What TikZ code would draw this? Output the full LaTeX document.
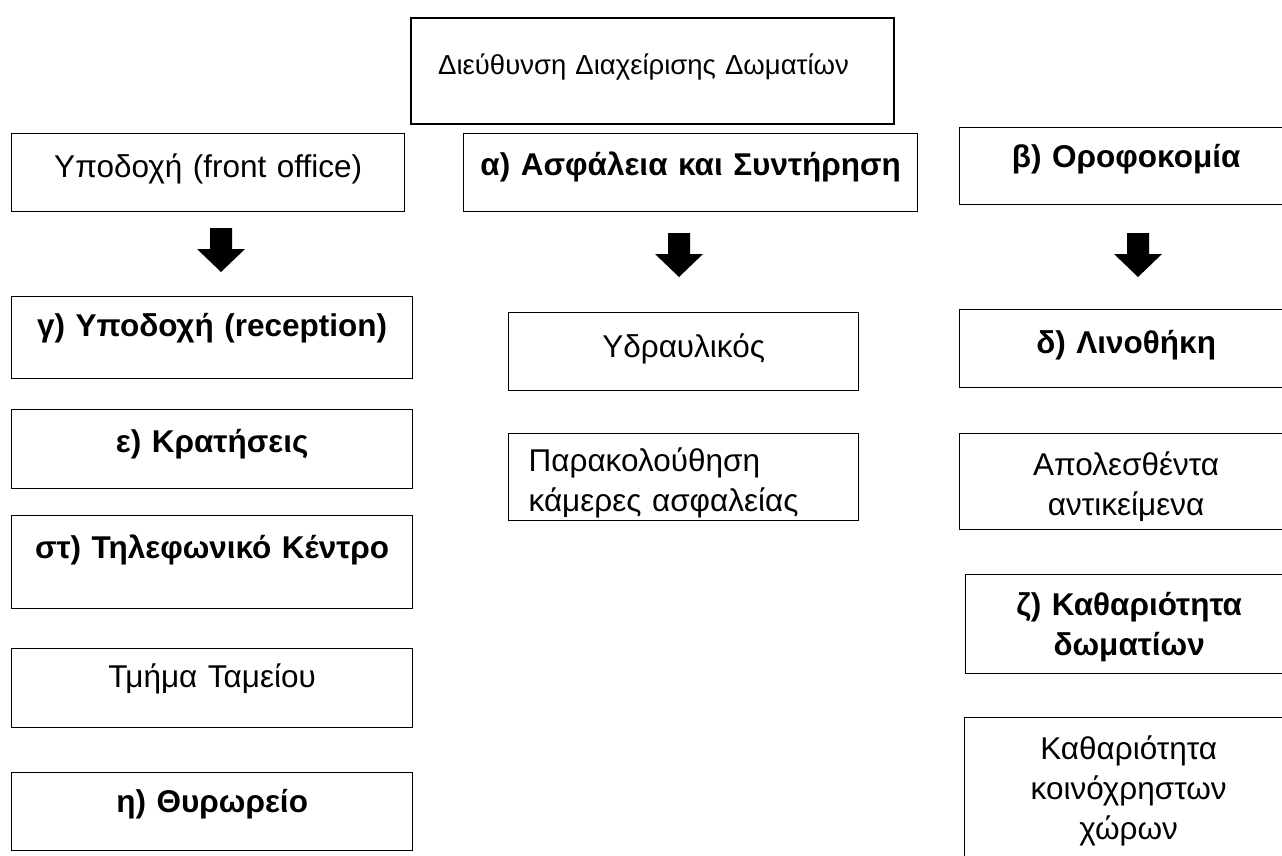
\documentclass[tikz,border=0pt]{standalone}
\usepackage{fontspec}
\setmainfont{Liberation Sans}
\usepackage{tikz}

\begin{document}
\begin{tikzpicture}[
	x=1pt, y=-1pt,
	box/.style={
		draw,
		line width=1.3pt,
		anchor=north west,
		inner xsep=0pt, inner ysep=0pt,
		align=center,
		font=\fontsize{31.5}{40}\selectfont
	},
	boldbox/.style={
		box,
		font=\fontsize{31.5}{40}\selectfont\bfseries
	},
	downarrow/.pic={
		\fill (-11,0) -- (11,0) -- (11,21) -- (24,21) -- (0,44) -- (-24,21) -- (-11,21) -- cycle;
	}
	]
	\useasboundingbox (0,0) rectangle (1282,855);
	\clip (0,0) rectangle (1282,855);

	\node[box,line width=2.4pt,align=left,inner xsep=27pt,text width=429pt,text height=56pt,text depth=50pt,font=\fontsize{27.5}{40}\selectfont]
	(dir) at (410,17) {Διεύθυνση Διαχείρισης Δωματίων};

	% left column
	\node[box,text width=393pt,text height=44pt,text depth=34pt]
	(front) at (11,133) {Υποδοχή (front office)};
	\node[boldbox,text width=401pt,text height=40pt,text depth=42pt]
	(recep) at (11,296) {γ) Υποδοχή (reception)};
	\node[boldbox,text width=401pt,text height=43pt,text depth=36pt]
	(book) at (11,409) {ε) Κρατήσεις};
	\node[boldbox,text width=401pt,text height=43pt,text depth=50pt]
	(phone) at (11,515) {στ) Τηλεφωνικό Κέντρο};
	\node[box,text width=401pt,text height=39pt,text depth=40pt]
	(cash) at (11,648) {Τμήμα Ταμείου};
	\node[boldbox,text width=401pt,text height=40pt,text depth=38pt]
	(door) at (11,772) {η) Θυρωρείο};

	% middle column
	\node[boldbox,text width=454pt,text height=42pt,text depth=36pt]
	(safety) at (463,133) {α) Ασφάλεια και Συντήρηση};
	\node[box,text width=350pt,text height=45pt,text depth=33pt]
	(plumb) at (508,312) {Υδραυλικός};
	\node[box,align=left,inner xsep=20pt,text width=310pt,text height=38pt,text depth=49pt]
	(cctv) at (508,433) {Παρακολούθηση\\κάμερες ασφαλείας};

	% right column
	\node[boldbox,text width=333pt,text height=40pt,text depth=37pt]
	(house) at (959,127) {β) Οροφοκομία};
	\node[boldbox,text width=333pt,text height=44pt,text depth=34pt]
	(linen) at (959,309) {δ) Λινοθήκη};
	\node[box,text width=333pt,text height=42pt,text depth=54pt]
	(lost) at (959,433) {Απολεσθέντα\\αντικείμενα};
	\node[boldbox,text width=327pt,text height=41pt,text depth=58pt]
	(clean) at (965,574) {ζ) Καθαριότητα\\δωματίων};
	\node[box,text width=328pt,text height=42pt,text depth=200pt]
	(common) at (964,717) {Καθαριότητα\\κοινόχρηστων\\χώρων};

	\pic (arrfront) at (221,228) {downarrow};
	\pic (arrsafety) at (679,233) {downarrow};
	\pic (arrhouse) at (1138,233) {downarrow};
\end{tikzpicture}
\end{document}
